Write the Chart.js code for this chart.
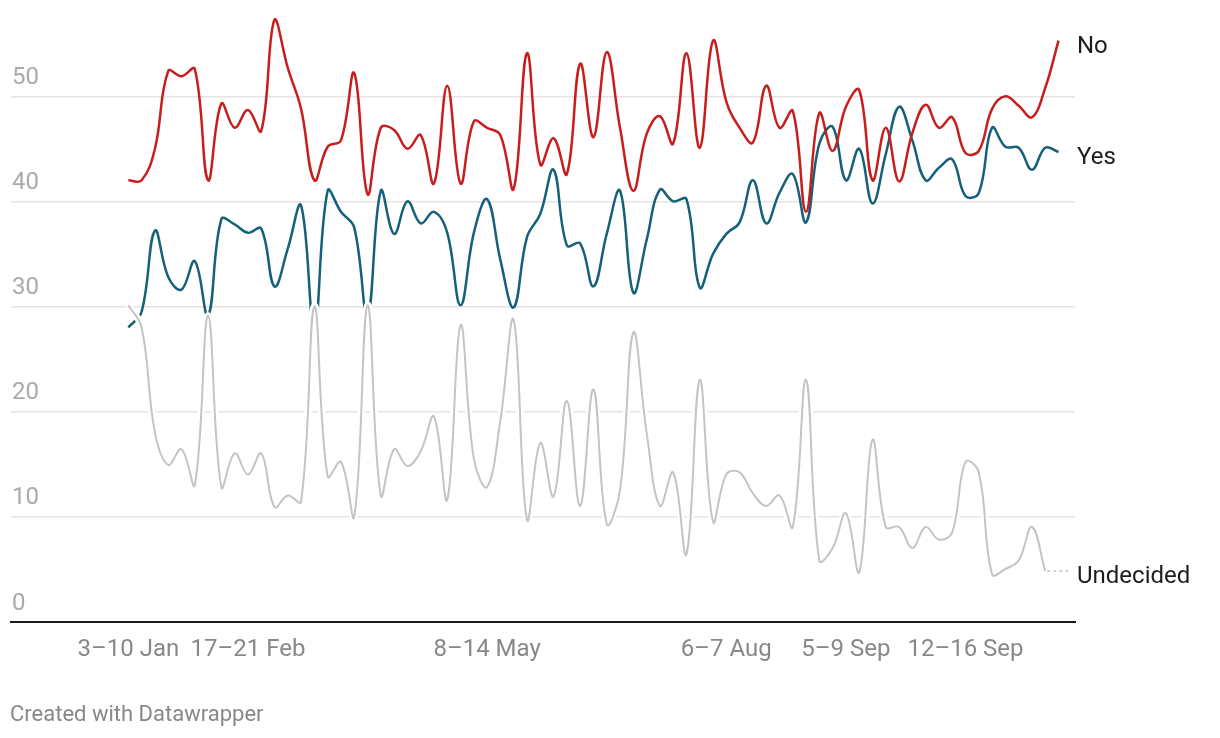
<!DOCTYPE html>
<html>
<head>
<meta charset="utf-8">
<script src="https://cdn.jsdelivr.net/npm/chart.js@4"></script>
<style>
  html, body { margin: 0; padding: 0; background: #fff; }
  #wrap { position: relative; width: 1220px; height: 738px; }
  #footer {
    position: absolute; left: 10px; top: 701px;
    font: 22px Roboto, sans-serif; color: #888;
  }
</style>
</head>
<body>
<div id="wrap">
  <canvas id="pollChart"></canvas>
  <div id="footer">Created with Datawrapper</div>
</div>
<script>
// ============================================
// DATA (one value per poll, left to right)
// ============================================

const tickIdx    = [0, 9, 27, 45, 54, 63];
const tickLabels = ['3–10 Jan', '17–21 Feb', '8–14 May', '6–7 Aug', '5–9 Sep', '12–16 Sep'];
const yTicks     = [0, 10, 20, 30, 40, 50];

const noVals = [
  42.0, 42.0, 45.0, 52.4, 51.9, 52.6, 42.0, 49.3, 47.0, 48.7,
  46.7, 57.3, 52.7, 48.8, 42.0, 45.2, 45.8, 52.2, 40.7, 47.0,
  46.8, 45.0, 46.3, 41.7, 51.0, 41.7, 47.6, 47.0, 46.3, 41.2,
  54.1, 43.5, 46.0, 42.6, 53.1, 46.1, 54.2, 47.0, 41.0, 46.4,
  48.1, 45.5, 54.1, 45.1, 55.3, 49.5, 47.0, 45.6, 51.0, 47.0,
  48.6, 39.0, 48.4, 44.8, 49.0, 50.6, 42.0, 47.0, 41.9, 46.5,
  49.2, 47.0, 48.0, 44.6, 44.8, 48.8, 50.0, 49.1, 48.0, 50.8,
  55.3
];

const yesVals = [
  28.0, 29.5, 37.2, 32.8, 31.6, 34.3, 29.1, 38.3, 37.8, 37.0,
  37.4, 31.9, 35.5, 39.6, 27.8, 41.0, 39.0, 37.5, 29.0, 41.0,
  36.9, 40.0, 37.9, 39.0, 37.0, 30.1, 37.0, 40.2, 34.4, 29.9,
  36.6, 38.8, 43.0, 35.8, 36.0, 31.9, 36.9, 41.0, 31.3, 36.3,
  41.1, 40.0, 40.2, 31.8, 35.0, 36.9, 38.0, 42.0, 37.9, 40.8,
  42.6, 38.0, 45.5, 47.1, 42.0, 45.0, 39.8, 44.5, 49.0, 45.8,
  42.0, 43.2, 44.0, 40.5, 40.8, 47.0, 45.2, 45.1, 43.0, 45.1,
  44.7
];

const undecidedVals = [
  30.1, 28.0, 18.0, 14.9, 16.4, 13.0, 29.1, 12.8, 16.0, 14.0,
  16.0, 10.9, 12.0, 11.4, 30.0, 13.8, 15.2, 10.0, 30.1, 12.0,
  16.4, 14.8, 16.2, 19.5, 11.6, 28.2, 15.5, 12.8, 19.2, 28.7,
   9.7, 17.0, 11.9, 21.0, 11.0, 22.1,  9.3, 12.5, 27.5, 18.0,
  11.0, 14.2,  6.4, 23.0,  9.5, 14.0, 14.2, 12.2, 11.0, 12.0,
   9.0, 23.0,  5.8,  7.0, 10.3,  4.7, 17.3,  9.0,  9.0,  7.0,
   9.0,  7.8,  8.5, 15.2, 14.2,  4.5,  5.0,  5.8,  9.0,  4.8,
  null
];

const RED  = '#c71e1d';
const TEAL = '#15607a';
const GRAY = '#c4c4c4';
const FONT = 'Roboto, sans-serif';

const toPts = (arr) => arr.map((v, i) => ({ x: i, y: v }));

// ============================================
// RÓTULOS À DIREITA (No / Yes / Undecided)
// ============================================

const endLabels = {
  id: 'endLabels',
  afterDatasetsDraw(chart) {
    const ctx = chart.ctx;
    ctx.save();
    ctx.font = `24px ${FONT}`;
    ctx.fillStyle = '#1d1d1d';
    ctx.textAlign = 'left';
    ctx.textBaseline = 'alphabetic';
    chart.data.datasets.forEach((ds, di) => {
      if (!ds.endLabel) return;
      const meta = chart.getDatasetMeta(di);
      let last = ds.data.length - 1;
      while (last > 0 && ds.data[last].y === null) last--;
      const pt = meta.data[last];
      const lx = 1077;
      // linha tracejada quando a série termina antes
      if (pt.x < lx - 20) {
        ctx.strokeStyle = GRAY;
        ctx.lineWidth = 1.5;
        ctx.setLineDash([3, 3]);
        ctx.beginPath();
        ctx.moveTo(pt.x + 2, pt.y);
        ctx.lineTo(lx - 6, pt.y);
        ctx.stroke();
        ctx.setLineDash([]);
      }
      ctx.fillText(ds.endLabel, lx, pt.y + 12);
    });
    ctx.restore();
  }
};

const line = (label, vals, color, width, extra = {}) => ({
  label,
  data: toPts(vals),
  borderColor: color,
  borderWidth: width,
  pointRadius: 0,
  tension: 0.4,
  fill: false,
  spanGaps: false,
  ...extra,
});

new Chart(document.getElementById('pollChart'), {
  type: 'line',
  data: {
    datasets: [
      line('Undecided', undecidedVals, GRAY, 2, { endLabel: 'Undecided' }),
      line('halo', undecidedVals, '#ffffff', 7),
      line('No', noVals, RED, 2.5, { endLabel: 'No' }),
      line('Yes', yesVals, TEAL, 2.5, { endLabel: 'Yes' }),
    ],
  },
  options: {
    responsive: true,
    maintainAspectRatio: false,
    animation: false,
    layout: { padding: { left: 9, right: 145, top: 0, bottom: 0 } },
    plugins: { legend: { display: false }, tooltip: { enabled: false } },
    scales: {
      x: {
        type: 'linear',
        min: -8.83,
        max: 71.24,
        afterBuildTicks: (s) => { s.ticks = tickIdx.map(v => ({ value: v })); },
        afterFit: (s) => { s.height = 116.5; },
        grid: { display: false, drawTicks: false },
        border: { display: true, color: '#1a1a1a', width: 2 },
        ticks: {
          autoSkip: false,
          maxRotation: 0,
          padding: 14,
          color: '#888',
          font: { size: 24, family: FONT },
          callback: (v) => tickLabels[tickIdx.indexOf(v)] ?? '',
        },
      },
      y: {
        min: 0,
        max: 57.7,
        afterBuildTicks: (s) => { s.ticks = yTicks.map(v => ({ value: v })); },
        grid: { color: '#e4e4e4', lineWidth: 1.5, drawTicks: false },
        border: { display: false },
        ticks: {
          mirror: true,
          padding: 1,
          labelOffset: -18,
          color: '#aaa',
          font: { size: 24, family: FONT },
        },
      },
    },
  },
  plugins: [endLabels],
});
</script>
</body>
</html>
